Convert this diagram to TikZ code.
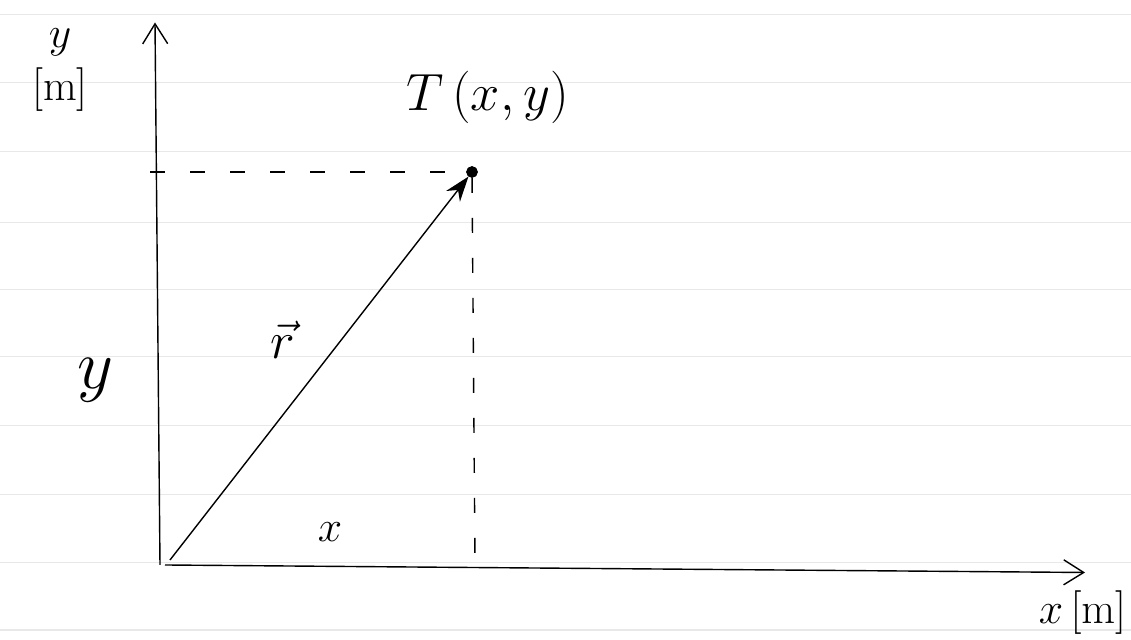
\documentclass[tikz,border=0pt]{standalone}
\usetikzlibrary{arrows.meta}
\begin{document}
\begin{tikzpicture}[
  every node/.style={font=\Huge},
  os/.style={thick, -{Straight Barb[length=4mm,width=5mm]}},
  vektor/.style={thick, -{Stealth[length=5mm,width=3.5mm]}},
  pomoc/.style={thick, dashed, dash pattern=on 3mm off 5mm},
  tocka/.style={circle, draw=black, fill=black, inner sep=0pt, minimum size=2.2mm},
  linija/.style={gray!18, line width=0.6pt}
]
\useasboundingbox (0,0) rectangle (22.62,12.8);
% ruled paper
\foreach \py in {15,83,152,223,290,357,426,495,563,630}
  \draw[linija] (0,{(640-\py)*0.02}) -- (22.62,{(640-\py)*0.02});
% axes
\coordinate (O) at (3.3,1.5);
\coordinate (Ykraj) at (3.1,12.35);
\coordinate (Xkraj) at (21.7,1.35);
\draw[os] (3.2,1.5) -- (Ykraj);
\draw[os] (O) -- (Xkraj);
% point and vector
\node[tocka] (T) at (9.44,9.36) {};
\coordinate (Ty) at (3.0,9.36);
\coordinate (Tx) at (9.5,1.5);
\draw[pomoc] (Ty) -- (T);
\draw[pomoc] (T) -- (Tx);
\draw[vektor] (3.4,1.6) -- (T);
% labels
\node[scale=1.2] (Toznaka) at (9.75,10.85) {$T\,(x,y)$};
\node[scale=1.2] (r) at (5.65,6.0) {$\vec{r}$};
\node[scale=1.6] (y) at (1.9,5.2) {$y$};
\node (x) at (6.6,2.15) {$x$};
\node[align=center, inner sep=0pt] (yjed) at (1.2,11.4) {$y$\\{[m]}};
\node (xjed) at (21.65,0.55) {$x\,[\mathrm{m}]$};
\end{tikzpicture}
\end{document}
